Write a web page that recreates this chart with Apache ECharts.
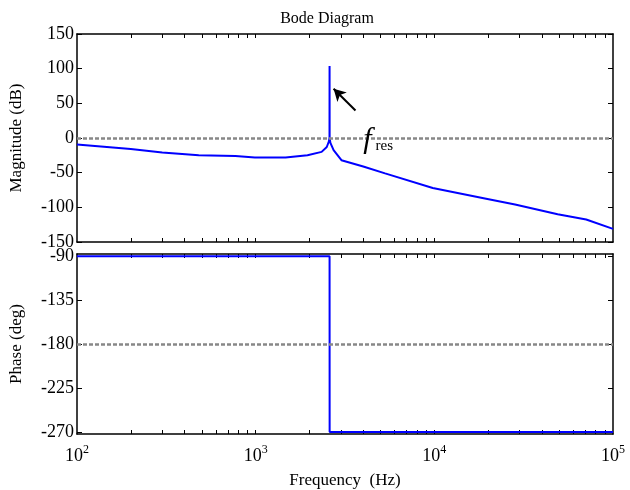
<!DOCTYPE html>
<html>
<head>
<meta charset="utf-8">
<script src="https://cdn.jsdelivr.net/npm/echarts@6/dist/echarts.min.js"></script>
<style>
  html, body { margin: 0; padding: 0; background: #fff; }
  #chart { width: 630px; height: 490px; }
</style>
</head>
<body>
<div id="chart"></div>
<script>
// magnitude curve (Hz, dB)
var magFreq = [100, 200, 300, 480, 770, 990, 1470, 1950, 2340, 2500, 2570, 2590, 2592, 2594, 2620, 2730, 3020, 4000, 5300, 9800, 19500, 28300, 49000, 70800, 100000]
var magDb = [-9.5, -16, -21, -25, -26, -28, -28, -25, -20, -13, -5, 0, 104, 0, -7, -17.6, -32, -41, -51, -72, -87.6, -96, -110, -117.6, -131]
// phase curve (Hz, deg)
var phaseFreq = [100, 2592, 2594, 100000]
var phaseDeg = [-90.3, -90.3, -270, -270]
var magTicks = [-150, -100, -50, 0, 50, 100, 150]
var phaseTicks = [-270, -225, -180, -135, -90]
var freqTicks = [100, 1000, 10000, 100000]
var minorFreq = [200, 300, 400, 500, 600, 700, 800, 900, 1000, 2000, 3000, 4000, 5000, 6000, 7000, 8000, 9000, 10000, 20000, 30000, 40000, 50000, 60000, 70000, 80000, 90000]

var font = 'Liberation Serif'
var axisLine = { show: true, onZero: false, lineStyle: { color: '#000', width: 1.5 } }

function xAxis(grid, pos, labels) {
  return {
    type: 'log', gridIndex: grid, position: pos, min: 100, max: 100000, logBase: 10,
    axisLine: axisLine,
    axisTick: { show: true, inside: true, length: 4, customValues: minorFreq, lineStyle: { color: '#000' } },
    splitLine: { show: false },
    axisLabel: labels ? {
      show: true, customValues: freqTicks, margin: 10, color: '#000', fontFamily: font,
      formatter: function (v) {
        return '{b|10}{e|' + Math.round(Math.log10(v)) + '}'
      },
      rich: {
        b: { fontSize: 18, fontFamily: font, color: '#000' },
        e: { fontSize: 12, fontFamily: font, color: '#000', padding: [0, 0, 12, 0] }
      }
    } : { show: false },
    name: labels ? 'Frequency  (Hz)' : '',
    nameLocation: 'middle', nameGap: 38,
    nameTextStyle: { fontSize: 17, fontFamily: font, color: '#000' }
  }
}

function yAxis(grid, pos, min, max, ticks, name) {
  return {
    type: 'value', gridIndex: grid, position: pos, min: min, max: max,
    axisLine: axisLine,
    axisTick: { show: true, inside: true, length: 5, customValues: ticks, lineStyle: { color: '#000' } },
    splitLine: { show: false },
    axisLabel: name ? { show: true, customValues: ticks, margin: 3, fontSize: 18, fontFamily: font, color: '#000' } : { show: false },
    name: name || '',
    nameLocation: 'middle', nameGap: 52,
    nameTextStyle: { fontSize: 17, fontFamily: font, color: '#000' }
  }
}

var chart = echarts.init(document.getElementById('chart'))
chart.setOption({
  animation: false,
  title: {
    text: 'Bode Diagram', left: 322, top: 6, textAlign: 'center',
    textStyle: { fontSize: 16, fontWeight: 'normal', fontFamily: font, color: '#000' }
  },
  grid: [
    { left: 76, right: 17, top: 34, height: 208 },
    { left: 76, right: 17, top: 254, height: 181 }
  ],
  xAxis: [
    xAxis(0, 'bottom', false),
    xAxis(0, 'top', false),
    xAxis(1, 'bottom', true),
    xAxis(1, 'top', false)
  ],
  yAxis: [
    yAxis(0, 'left', -150, 150, magTicks, 'Magnitude (dB)'),
    yAxis(0, 'right', -150, 150, magTicks, null),
    yAxis(1, 'left', -272, -88, phaseTicks, 'Phase (deg)'),
    yAxis(1, 'right', -272, -88, phaseTicks, null)
  ],
  series: [
    {
      type: 'line', xAxisIndex: 0, yAxisIndex: 0, showSymbol: false, symbol: 'none',
      data: magFreq.map(function (f, i) { return [f, magDb[i]] }),
      lineStyle: { color: '#0000ff', width: 2 },
      z: 3,
      markLine: {
        silent: true, symbol: 'none', animation: false,
        label: { show: false },
        data: [
          [{ coord: [100, 0], lineStyle: { color: '#888', width: 2.5, type: [4, 2] } }, { coord: [100000, 0] }],
          [{ coord: [3620, 39.6], symbol: 'none', lineStyle: { color: '#000', width: 2, type: 'solid' } },
           { coord: [2730, 71], symbol: 'arrow', symbolSize: [10, 12] }]
        ]
      },
      markPoint: {
        silent: true, symbol: 'circle', symbolSize: 0,
        data: [{ coord: [4850, -3] }],
        label: {
          show: true, position: 'inside',
          formatter: '{f|f}{s|res}',
          rich: {
            f: { fontSize: 30, fontStyle: 'italic', fontFamily: font, color: '#000' },
            s: { fontSize: 15, fontFamily: font, color: '#000', padding: [12, 0, 0, 4] }
          }
        }
      }
    },
    {
      type: 'line', xAxisIndex: 2, yAxisIndex: 2, showSymbol: false, symbol: 'none',
      data: phaseFreq.map(function (f, i) { return [f, phaseDeg[i]] }),
      lineStyle: { color: '#0000ff', width: 2 },
      z: 3,
      markLine: {
        silent: true, symbol: 'none', animation: false,
        label: { show: false },
        lineStyle: { color: '#888', width: 2.5, type: [4, 2] },
        data: [[{ coord: [100, -180] }, { coord: [100000, -180] }]]
      }
    }
  ]
})
</script>
</body>
</html>
